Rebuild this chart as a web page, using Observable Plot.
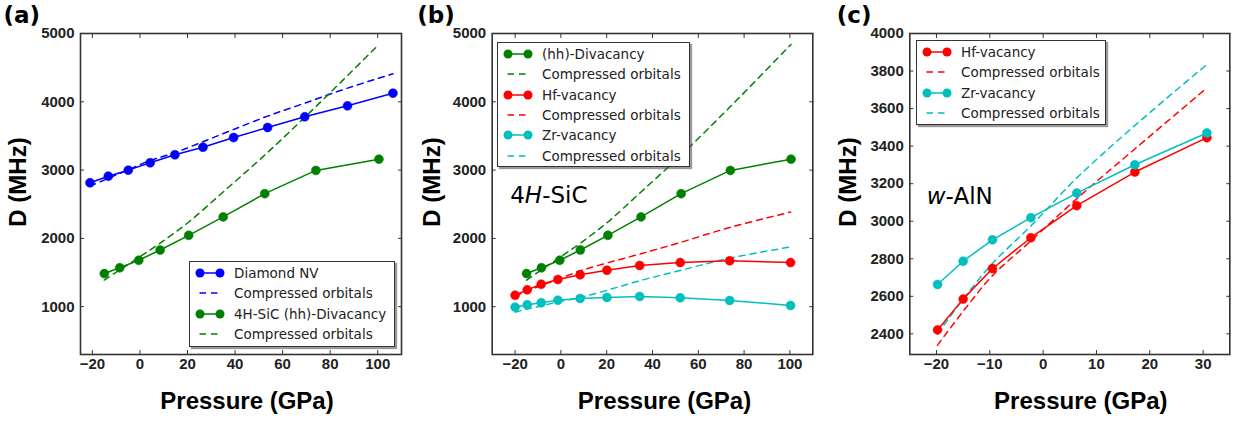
<!DOCTYPE html>
<html>
<head>
<meta charset="utf-8">
<script src="https://cdn.jsdelivr.net/npm/d3@7"></script>
<script src="https://cdn.jsdelivr.net/npm/@observablehq/plot@0.6"></script>
<style>
  body { margin: 0; background: #fff; }
  #fig { position: relative; width: 1234px; height: 423px; overflow: hidden; background: #fff; }
  .panel { position: absolute; top: 0; }
  .legend { position: absolute; background: #fff; border: 1px solid #333; box-sizing: border-box;
            box-shadow: 2px 2px 1px rgba(70,70,70,0.55); padding-top: 1px;
            font-family: "DejaVu Sans", sans-serif; font-size: 13.5px; color: #222; }
  .legend .row { height: 20.3px; display: flex; align-items: center; white-space: nowrap; }
  .legend svg { margin-left: 5px; margin-right: 7px; flex: none; }
</style>
</head>
<body>
<div id="fig"></div>
<script>
// ---------------- DATA ----------------
// Panel (a)/(b): 4H-SiC (hh)-divacancy
const divP    = [-15, -8.5, -0.5, 8.5, 20.5, 35, 52.5, 74, 100.5];
const divD    = [1485, 1570, 1680, 1830, 2045, 2315, 2655, 2995, 3160];
const divFitD = [1390, 1540, 1720, 1930, 2240, 2680, 3220, 3930, 4840];
// Panel (a): Diamond NV
const nvP    = [-21, -13.3, -4.9, 4.3, 14.7, 26.5, 39.4, 53.7, 69.3, 87.3, 106.4];
const nvD    = [2814, 2911, 2999, 3107, 3224, 3335, 3477, 3624, 3780, 3941, 4126];
const nvFitD = [2765, 2880, 3005, 3140, 3255, 3415, 3595, 3790, 3980, 4200, 4410];
// Panel (b): 4H-SiC Hf- and Zr-vacancy
const sicP     = [-20, -14.7, -8.6, -1.3, 8.4, 20.1, 34.4, 52.1, 73.7, 100.3];
const sicHfD   = [1168, 1247, 1329, 1398, 1467, 1534, 1603, 1646, 1672, 1646];
const sicHfFit = [1160, 1230, 1310, 1400, 1525, 1640, 1770, 1940, 2160, 2385];
const sicZrD   = [993, 1028, 1057, 1095, 1120, 1135, 1149, 1130, 1091, 1018];
const sicZrFit = [920, 965, 1010, 1070, 1135, 1240, 1380, 1530, 1710, 1875];
// Panel (c): w-AlN Hf- and Zr-vacancy
const alnP     = [-19.8, -15.0, -9.5, -2.3, 6.3, 17.2, 30.7];
const alnHfD   = [2421, 2585, 2748, 2912, 3083, 3262, 3445];
const alnHfFit = [2340, 2520, 2710, 2895, 3120, 3385, 3710];
const alnZrD   = [2663, 2787, 2901, 3019, 3150, 3301, 3470];
const alnZrFit = [2400, 2585, 2775, 2975, 3230, 3510, 3835];

// Ticks
const xTicksAB = [-20, 0, 20, 40, 60, 80, 100];
const yTicksAB = [1000, 2000, 3000, 4000, 5000];
const xTicksC  = [-20, -10, 0, 10, 20, 30];
const yTicksC  = [2400, 2600, 2800, 3000, 3200, 3400, 3600, 3800, 4000];

// Labels
const xLabel = "Pressure (GPa)";
const yLabel = "D (MHz)";
const letters = ["(a)", "(b)", "(c)"];
const legendA = ["Diamond NV", "Compressed orbitals", "4H-SiC (hh)-Divacancy", "Compressed orbitals"];
const legendB = ["(hh)-Divacancy", "Compressed orbitals", "Hf-vacancy", "Compressed orbitals", "Zr-vacancy", "Compressed orbitals"];
const legendC = ["Hf-vacancy", "Compressed orbitals", "Zr-vacancy", "Compressed orbitals"];

const BLUE = "#0000ff", GREEN = "#008000", RED = "#ff0000", CYAN = "#00bfbf";

// ---------------- DRAWING ----------------
const fig = document.getElementById("fig");
const ns = "http://www.w3.org/2000/svg";
const TICKFONT = "Liberation Sans, Arial, Helvetica, sans-serif";

function rows(p, d) { return p.map((v, i) => ({p: v, d: d[i]})); }

function makePanel(cfg) {
  const marks = [];
  for (const s of cfg.series.filter(s => s.dashed)) {
    marks.push(Plot.line(rows(s.p, s.d), {x: "p", y: "d", stroke: s.color, strokeWidth: 1.5,
      strokeDasharray: "6,5", curve: "catmull-rom"}));
  }
  for (const s of cfg.series.filter(s => !s.dashed)) {
    marks.push(Plot.line(rows(s.p, s.d), {x: "p", y: "d", stroke: s.color, strokeWidth: 1.5}));
    marks.push(Plot.dot(rows(s.p, s.d), {x: "p", y: "d", r: 4.5, fill: s.color, stroke: s.color, strokeWidth: 0.5}));
  }
  const chart = Plot.plot({
    width: cfg.width, height: 423,
    marginLeft: cfg.ml, marginRight: cfg.mr, marginTop: 33, marginBottom: 69,
    x: {domain: cfg.xDomain},
    y: {domain: cfg.yDomain},
    style: {background: "transparent", overflow: "visible"},
    marks: [
      ...marks,
      Plot.frame({stroke: "#333", strokeWidth: 1.6}),
      Plot.axisX(cfg.xTicks, {anchor: "bottom", tickSize: -4, tickPadding: 8, fontSize: 15, fontWeight: "bold",
        fontFamily: TICKFONT, fill: "#222", stroke: "#333", label: null}),
      Plot.axisX(cfg.xTicks, {anchor: "top", tickSize: -4, tickFormat: () => "", stroke: "#333", label: null}),
      Plot.axisY(cfg.yTicks, {anchor: "left", tickSize: -4, tickPadding: 10, tickFormat: d3.format("d"),
        fontSize: 15, fontWeight: "bold", fontFamily: TICKFONT, fill: "#222", stroke: "#333", label: null}),
      Plot.axisY(cfg.yTicks, {anchor: "right", tickSize: -4, tickFormat: () => "", stroke: "#333", label: null}),
      Plot.text([xLabel], {text: d => d, frameAnchor: "bottom", textAnchor: "middle", lineAnchor: "bottom", dy: 54, dx: cfg.xLabelDx,
        fontSize: 24, fontWeight: "bold", fontFamily: TICKFONT, fill: "#000"}),
      Plot.text([yLabel], {text: d => d, frameAnchor: "left", textAnchor: "middle", lineAnchor: "top", rotate: -90, dx: -cfg.yLabelOff, dy: -12,
        fontSize: 24, fontWeight: "bold", fontFamily: TICKFONT, fill: "#000"}),
      Plot.text([cfg.letter], {text: d => d, frameAnchor: "top-left", textAnchor: "start", lineAnchor: "bottom",
        dx: cfg.letterDx, dy: -11, fontSize: 23, fontWeight: "bold", fontFamily: "DejaVu Sans, sans-serif", fill: "#000"}),
      ...(cfg.anno ? [Plot.text([cfg.anno.text], {text: d => d, frameAnchor: "top-left", textAnchor: "start", lineAnchor: "bottom",
        dx: cfg.anno.dx, dy: cfg.anno.dy, fontSize: 23, fontFamily: "DejaVu Sans, sans-serif", fill: "#000", className: "anno"})] : [])
    ]
  });
  chart.classList.add("panel");
  chart.style.left = cfg.left + "px";
  fig.appendChild(chart);
  // italic parts of annotation
  if (cfg.anno) {
    chart.querySelectorAll(".anno text").forEach(t => {
      t.textContent = "";
      for (const [str, it] of cfg.anno.parts) {
        const ts = document.createElementNS(ns, "tspan");
        ts.textContent = str;
        if (it) ts.setAttribute("font-style", "italic");
        t.appendChild(ts);
      }
    });
  }
  return chart;
}

function makeLegend(cfg) {
  const box = document.createElement("div");
  box.className = "legend";
  Object.assign(box.style, {left: cfg.left + "px", top: cfg.top + "px", width: cfg.width + "px", height: cfg.height + "px"});
  cfg.labels.forEach((lab, i) => {
    const s = cfg.styles[i];
    const row = document.createElement("div");
    row.className = "row";
    let sw;
    if (s.dashed) {
      sw = `<svg width="32" height="12"><line x1="4.5" x2="23" y1="6" y2="6" stroke="${s.color}" stroke-width="1.5" stroke-dasharray="6.5,5"/></svg>`;
    } else {
      sw = `<svg width="32" height="12"><line x1="5" x2="25" y1="6" y2="6" stroke="${s.color}" stroke-width="1.5"/>` +
           `<circle cx="5" cy="6" r="4.5" fill="${s.color}"/><circle cx="25" cy="6" r="4.5" fill="${s.color}"/></svg>`;
    }
    row.innerHTML = sw;
    const span = document.createElement("span");
    span.textContent = lab;
    row.appendChild(span);
    box.appendChild(row);
  });
  fig.appendChild(box);
}

// Panel (a)
makePanel({
  left: 0, width: 411, ml: 80, mr: 10, xDomain: [-25, 110], yDomain: [300, 5000],
  xTicks: xTicksAB, yTicks: yTicksAB, letter: letters[0], letterDx: -77, xLabelDx: 6, yLabelOff: 72,
  series: [
    {p: nvP, d: nvD, color: BLUE},
    {p: nvP, d: nvFitD, color: BLUE, dashed: true},
    {p: divP, d: divD, color: GREEN},
    {p: divP, d: divFitD, color: GREEN, dashed: true}
  ]
});
// Panel (b)
makePanel({
  left: 411, width: 411, ml: 80.7, mr: 9.7, xDomain: [-30, 110], yDomain: [300, 5000],
  xTicks: xTicksAB, yTicks: yTicksAB, letter: letters[1], letterDx: -75, xLabelDx: 12, yLabelOff: 69,
  anno: {text: "4H-SiC", parts: [["4", false], ["H", true], ["-SiC", false]], dx: 18, dy: 169},
  series: [
    {p: divP, d: divD, color: GREEN},
    {p: divP, d: divFitD, color: GREEN, dashed: true},
    {p: sicP, d: sicHfD, color: RED},
    {p: sicP, d: sicHfFit, color: RED, dashed: true},
    {p: sicP, d: sicZrD, color: CYAN},
    {p: sicP, d: sicZrFit, color: CYAN, dashed: true}
  ]
});
// Panel (c)
makePanel({
  left: 822, width: 412, ml: 87.3, mr: 4.7, xDomain: [-25, 35], yDomain: [2290, 4000],
  xTicks: xTicksC, yTicks: yTicksC, letter: letters[2], letterDx: -73, xLabelDx: 11, yLabelOff: 71,
  anno: {text: "w-AlN", parts: [["w", true], ["-AlN", false]], dx: 17, dy: 170},
  series: [
    {p: alnP, d: alnHfD, color: RED},
    {p: alnP, d: alnHfFit, color: RED, dashed: true},
    {p: alnP, d: alnZrD, color: CYAN},
    {p: alnP, d: alnZrFit, color: CYAN, dashed: true}
  ]
});

makeLegend({left: 189, top: 261, width: 206, height: 86, labels: legendA,
  styles: [{color: BLUE}, {color: BLUE, dashed: true}, {color: GREEN}, {color: GREEN, dashed: true}]});
makeLegend({left: 497, top: 42, width: 193, height: 125, labels: legendB,
  styles: [{color: GREEN}, {color: GREEN, dashed: true}, {color: RED}, {color: RED, dashed: true}, {color: CYAN}, {color: CYAN, dashed: true}]});
makeLegend({left: 916, top: 40, width: 190, height: 85, labels: legendC,
  styles: [{color: RED}, {color: RED, dashed: true}, {color: CYAN}, {color: CYAN, dashed: true}]});
</script>
</body>
</html>
